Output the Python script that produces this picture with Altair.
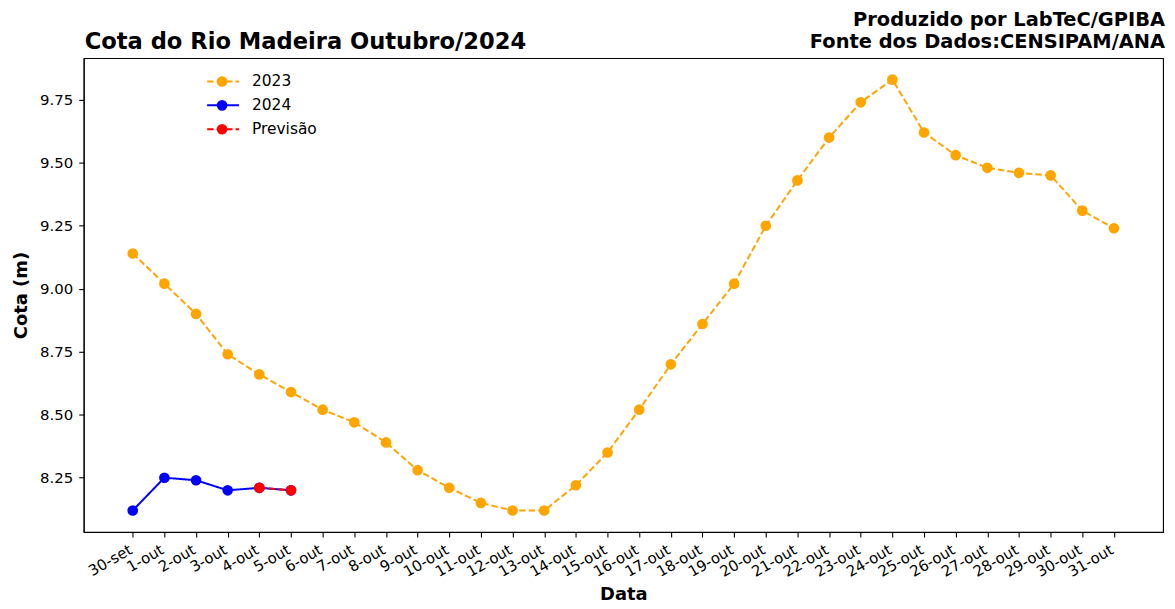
import altair as alt
import pandas as pd

# ---- data ----
datas = ["30-set"] + [f"{d}-out" for d in range(1, 32)]
cota_2023 = [9.14, 9.02, 8.90, 8.74, 8.66, 8.59, 8.52, 8.47, 8.39, 8.28, 8.21,
             8.15, 8.12, 8.12, 8.22, 8.35, 8.52, 8.70, 8.86, 9.02, 9.25, 9.43,
             9.60, 9.74, 9.83, 9.62, 9.53, 9.48, 9.46, 9.45, 9.31, 9.24]
cota_2024 = [8.12, 8.25, 8.24, 8.20, 8.21, 8.20]
previsao_datas = ["4-out", "5-out"]
previsao = [8.21, 8.20]
y_ticks = [8.25, 8.50, 8.75, 9.00, 9.25, 9.50, 9.75]

series = ["2023", "2024", "Previsão"]
cores = ["#FFA500", "#0000FF", "#FF0000"]
dashes = [[6.5, 3], [1, 0], [6.5, 3]]

rows = []
for i, v in enumerate(cota_2023):
    rows.append({"serie": "2023", "idx": i, "cota": v})
for i, v in enumerate(cota_2024):
    rows.append({"serie": "2024", "idx": i, "cota": v})
for d, v in zip(previsao_datas, previsao):
    rows.append({"serie": "Previsão", "idx": datas.index(d), "cota": v})
df = pd.DataFrame(rows)
df_leg = pd.DataFrame({"serie": series})

FONT = "DejaVu Sans"
W, H = 1084, 476

n = len(datas) - 1
x_dom = [-0.05 * n, n + 0.05 * n]
vals = [v for v in df["cota"]]
span = max(vals) - min(vals)
y_dom = [min(vals) - 0.05 * span, max(vals) + 0.05 * span]

label_expr = "[" + ",".join("'%s'" % d for d in datas) + "][datum.value]"

x_enc = alt.X("idx:Q",
              scale=alt.Scale(domain=x_dom, nice=False, zero=False),
              axis=alt.Axis(values=list(range(len(datas))), labelExpr=label_expr,
                            title="Data", labelAngle=330, labelAlign="right",
                            labelBaseline="top", labelPadding=5, labelOffset=-6,
                            labelOverlap=False, labelBound=False,
                            tickSize=5, titleY=68, titleBaseline="alphabetic"))
y_enc = alt.Y("cota:Q",
              scale=alt.Scale(domain=y_dom, nice=False, zero=False),
              axis=alt.Axis(values=y_ticks, format=".2f", title="Cota (m)",
                            tickSize=5, labelPadding=6, titlePadding=9))

color_sc = alt.Scale(domain=series, range=cores)
dash_sc = alt.Scale(domain=series, range=dashes)

base = alt.Chart(df)

lines = base.mark_line(strokeWidth=2).encode(
    x=x_enc, y=y_enc,
    color=alt.Color("serie:N", scale=color_sc, legend=None),
    strokeDash=alt.StrokeDash("serie:N", scale=dash_sc, legend=None),
    detail="serie:N",
)
points = base.mark_point(filled=True, size=115, opacity=1).encode(
    x=x_enc, y=y_enc,
    color=alt.Color("serie:N", scale=color_sc, legend=None),
)
main = alt.layer(lines, points)

# ---- legend (drawn as marks, one row per series) ----
leg_y = alt.Y("serie:N", scale=alt.Scale(type="point", domain=series,
                                         range=[23.5, 71.5], padding=0),
              axis=None)
lbase = alt.Chart(df_leg)
leg_line = lbase.mark_rule(strokeWidth=2).encode(
    x=alt.value(124), x2=alt.value(156), y=leg_y,
    color=alt.Color("serie:N", scale=color_sc, legend=None),
    strokeDash=alt.StrokeDash("serie:N", scale=dash_sc, legend=None),
)
leg_pt = lbase.mark_point(filled=True, size=115, opacity=1).encode(
    x=alt.value(139), y=leg_y,
    color=alt.Color("serie:N", scale=color_sc, legend=None),
)
leg_txt = lbase.mark_text(align="left", baseline="middle", font=FONT,
                          fontSize=15.5, color="black").encode(
    x=alt.value(169), y=leg_y, text="serie:N",
)
legenda = alt.layer(leg_line, leg_pt, leg_txt)

annot = alt.Chart(pd.DataFrame({"a": [0]})).mark_text(
    align="right", baseline="alphabetic", font=FONT, fontSize=19.5,
    fontWeight="bold", color="black", lineHeight=22,
).encode(
    x=alt.value(W + 2), y=alt.value(-32),
    text=alt.value(["Produzido por LabTeC/GPIBA", "Fonte dos Dados:CENSIPAM/ANA"]),
)

titulo = alt.Chart(pd.DataFrame({"a": [0]})).mark_text(
    align="left", baseline="alphabetic", font=FONT, fontSize=22.7,
    fontWeight="bold", color="black",
).encode(
    x=alt.value(1), y=alt.value(-9),
    text=alt.value("Cota do Rio Madeira Outubro/2024"),
)

chart = alt.layer(main, legenda, annot, titulo).resolve_scale(
    y="independent"
).properties(
    width=W, height=H,
    autosize=alt.AutoSizeParams(type="none"),
    padding={"left": 76, "top": 49, "right": 4, "bottom": 70},
).configure_view(
    stroke="black", strokeWidth=1.1
).configure_axis(
    labelFont=FONT, titleFont=FONT, labelFontSize=15, titleFontSize=18,
    titleFontWeight="bold", labelColor="black", titleColor="black",
    domainColor="black", tickColor="black", grid=False, domainWidth=1.1,
    tickWidth=1.1,
)

chart.save("out.html", embed_options={"renderer": "svg", "actions": False})
